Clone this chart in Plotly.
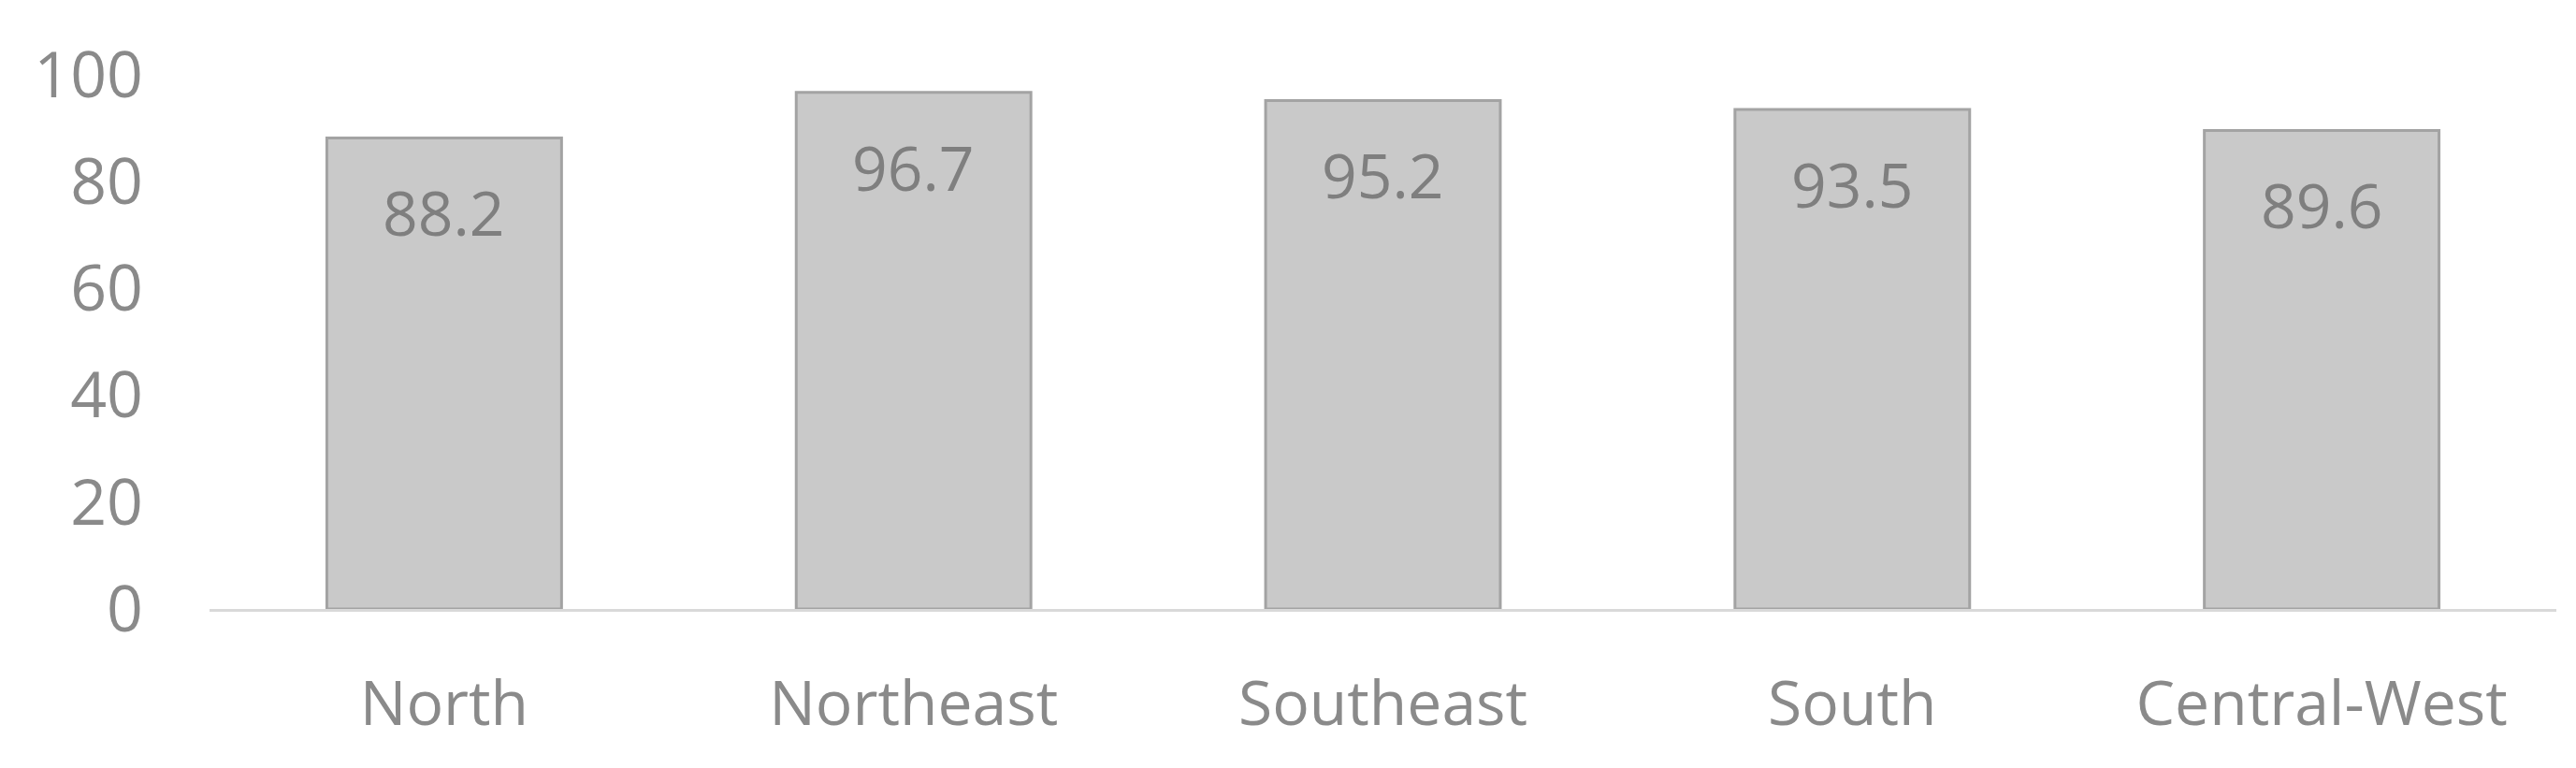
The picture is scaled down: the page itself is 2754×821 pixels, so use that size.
import plotly.graph_objects as go

regions = ["North", "Northeast", "Southeast", "South", "Central-West"]
values = [88.2, 96.7, 95.2, 93.5, 89.6]
y_ticks = [0, 20, 40, 60, 80, 100]

label_color = "#8a8a8a"
font_family = "Open Sans, DejaVu Sans, sans-serif"

fig = go.Figure()
fig.add_trace(go.Bar(
    x=regions,
    y=values,
    marker=dict(color="#c9c9c9", line=dict(color="#a3a3a3", width=3)),
    width=0.5,
    hoverinfo="x+y",
))

# value labels sit inside the bar, a bit below its top
for reg, val in zip(regions, values):
    fig.add_annotation(
        x=reg, y=val, text=f"{val:.1f}", showarrow=False,
        yanchor="middle", yshift=-79,
        font=dict(family=font_family, size=66, color="#7f7f7f"),
    )

fig.update_layout(
    width=2754, height=821,
    margin=dict(l=216, r=29, t=72, b=178),
    paper_bgcolor="white", plot_bgcolor="white",
    showlegend=False,
    font=dict(family=font_family, color=label_color, size=66),
)
fig.update_xaxes(
    showline=True, linecolor="#d9d9d9", linewidth=3,
    showgrid=False, ticks="", ticklabelstandoff=42,
    tickfont=dict(size=66, color=label_color),
)
fig.update_yaxes(
    range=[0, 100], tickvals=y_ticks, showgrid=False, zeroline=False,
    showline=False, ticks="", ticklabelstandoff=70,
    tickfont=dict(size=68, color=label_color),
)

fig.write_html("out.html")
